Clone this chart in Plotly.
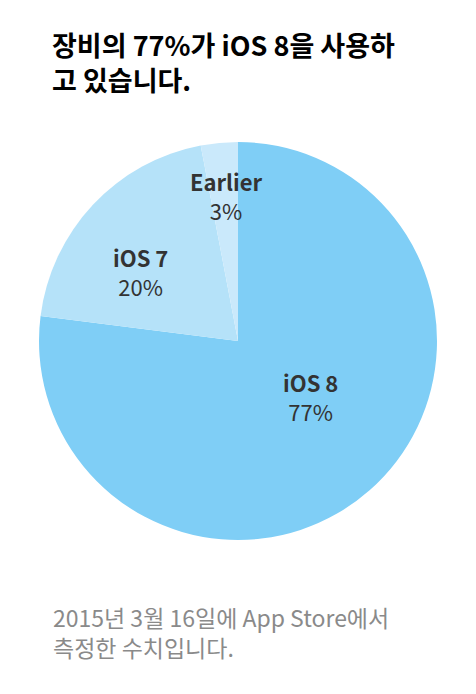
import plotly.graph_objects as go

# share of devices by iOS version, measured 2015-03-16 on the App Store
versions = ['iOS 8', 'iOS 7', 'Earlier']
shares = [77, 20, 3]
colors = ['#7fcef6', '#b5e2f9', '#cae9fb']

title_lines = ['장비의 77%가 iOS 8을 사용하', '고 있습니다.']
footer_lines = ['2015년 3월 16일에 App Store에서', '측정한 수치입니다.']

# centre of each slice label (page pixels), picked to match the picture
label_pos = [(310, 396), (140, 271), (226, 196)]

W, H = 476, 694
OFF = 8  # the page body has an 8px margin, so shift everything back
FONT = 'Noto Sans CJK KR'


def px(x):
    return (x - OFF) / W


def py(y):
    return 1 - (y - OFF) / H


fig = go.Figure()
fig.add_trace(go.Pie(
    labels=versions,
    values=shares,
    sort=False,
    direction='clockwise',
    rotation=0,
    marker=dict(colors=colors, line=dict(width=0)),
    textinfo='none',
    hoverinfo='label+percent',
    domain=dict(x=[px(39), px(437)], y=[py(540), py(142)]),
    showlegend=False,
))

annotations = []
for name, val, (lx, ly) in zip(versions, shares, label_pos):
    annotations.append(dict(
        x=px(lx), y=py(ly), xref='paper', yref='paper',
        xanchor='center', yanchor='middle', align='center',
        text='<b>{}</b><br>{}%'.format(name, val), showarrow=False,
        font=dict(family=FONT, size=22, color='#333333'),
    ))

# title
annotations.append(dict(
    x=px(50), y=py(62), xref='paper', yref='paper',
    xanchor='left', yanchor='middle', align='left',
    text='<br>'.join('<b>{}</b>'.format(l) for l in title_lines),
    showarrow=False, font=dict(family=FONT, size=27, color='#000000'),
))

# footer
annotations.append(dict(
    x=px(51), y=py(632), xref='paper', yref='paper',
    xanchor='left', yanchor='middle', align='left',
    text='<br>'.join(footer_lines),
    showarrow=False, font=dict(family=FONT, size=23, color='#8a8a8a'),
))

fig.update_layout(
    width=W, height=H,
    margin=dict(l=0, r=0, t=0, b=0),
    paper_bgcolor='white', plot_bgcolor='white',
    annotations=annotations,
)

fig.write_html("out.html")
